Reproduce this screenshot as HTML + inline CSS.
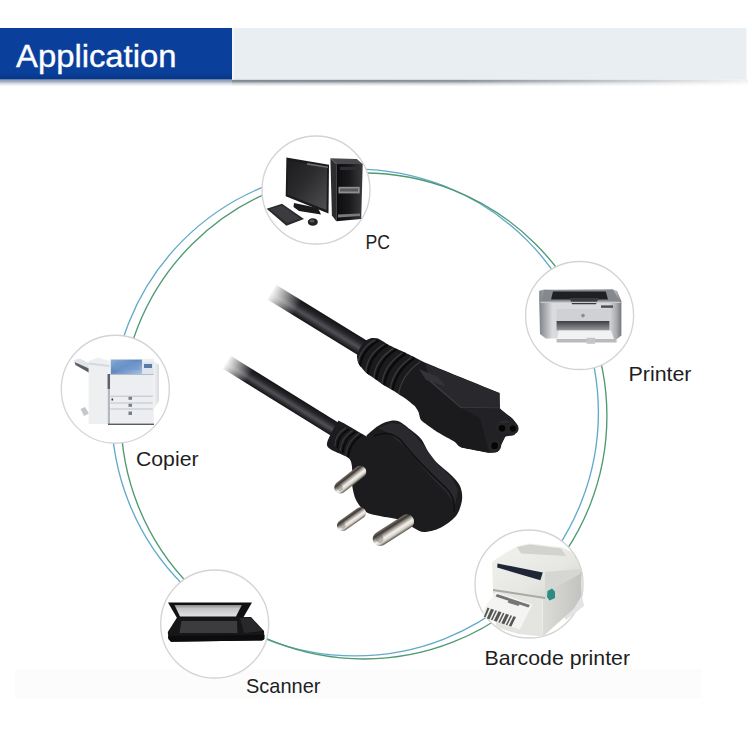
<!DOCTYPE html>
<html><head><meta charset="utf-8">
<style>
html,body{margin:0;padding:0;background:#fff;width:750px;height:750px;overflow:hidden}
svg{display:block}
text{font-family:"Liberation Sans",sans-serif}
</style></head>
<body>
<svg width="750" height="750" viewBox="0 0 750 750">
<defs>
  <linearGradient id="shV" x1="0" y1="0" x2="0" y2="1">
    <stop offset="0" stop-color="#737b84"/>
    <stop offset="0.3" stop-color="#8e959d"/>
    <stop offset="0.6" stop-color="#d4d7db"/>
    <stop offset="1" stop-color="#ffffff"/>
  </linearGradient>
  <linearGradient id="shVb" x1="0" y1="0" x2="0" y2="1">
    <stop offset="0" stop-color="#8799b3"/>
    <stop offset="0.3" stop-color="#a2aebf"/>
    <stop offset="0.6" stop-color="#dcdfe5"/>
    <stop offset="1" stop-color="#ffffff"/>
  </linearGradient>
  <linearGradient id="shH" x1="0" y1="0" x2="1" y2="0">
    <stop offset="0" stop-color="#fff" stop-opacity="0"/>
    <stop offset="0.45" stop-color="#fff" stop-opacity="0.1"/>
    <stop offset="0.8" stop-color="#fff" stop-opacity="0.6"/>
    <stop offset="1" stop-color="#fff" stop-opacity="0.9"/>
  </linearGradient>
  <linearGradient id="blueV" x1="0" y1="0" x2="0" y2="1">
    <stop offset="0" stop-color="#0a3f9c"/>
    <stop offset="0.85" stop-color="#0a409c"/>
    <stop offset="1" stop-color="#073686"/>
  </linearGradient>
</defs>
<rect width="750" height="750" fill="#fff"/>
<rect x="15" y="669" width="687" height="29" fill="#fcfcfc"/>
<!-- header -->
<rect x="0" y="79.5" width="232" height="7" fill="url(#shVb)"/>
<rect x="232" y="79.5" width="516" height="7" fill="url(#shV)"/>
<rect x="232" y="79" width="516" height="8" fill="url(#shH)"/>
<rect x="232" y="28" width="514.5" height="51.6" fill="#e9eef2"/>
<rect x="232" y="28" width="2" height="51.6" fill="#f4f7fa"/>
<rect x="0" y="28" width="232" height="51.5" fill="url(#blueV)"/>
<text x="16" y="67.2" font-size="32" fill="#fff" stroke="#fff" stroke-width="0.35" textLength="160.5" lengthAdjust="spacingAndGlyphs">Application</text>

<!-- ring -->
<circle cx="355" cy="412.5" r="243.4" fill="none" stroke="#62aacb" stroke-width="1.35"/>
<circle cx="363.9" cy="416" r="243" fill="none" stroke="#4f9a72" stroke-width="1.35"/>

<!-- small circles -->
<g fill="#fff" stroke="#d4d4d4" stroke-width="1.35">
  <circle cx="316" cy="190" r="54"/>
  <circle cx="579.6" cy="315.5" r="54"/>
  <circle cx="115.3" cy="389.2" r="54"/>
  <circle cx="214.7" cy="624" r="54"/>
  <circle cx="529" cy="584" r="54"/>
</g>



<!-- PC -->
<defs>
  <linearGradient id="monG" x1="0" y1="0" x2="1" y2="1">
    <stop offset="0" stop-color="#1c1c1e"/>
    <stop offset="0.45" stop-color="#2c2c2f"/>
    <stop offset="1" stop-color="#505054"/>
  </linearGradient>
  <linearGradient id="towG" x1="0" y1="0" x2="1" y2="0">
    <stop offset="0" stop-color="#0c0c0e"/>
    <stop offset="0.5" stop-color="#1a1a1c"/>
    <stop offset="1" stop-color="#3a3a3e"/>
  </linearGradient>
</defs>
<g>
  <!-- monitor -->
  <path d="M286.4,157.5 L329,164.8 L328.5,213.5 L285.7,196.3 Z" fill="#1b1b1d"/>
  <path d="M288,160.5 L327,167 L326.5,210 L287.5,194.5 Z" fill="url(#monG)"/>
  <path d="M294,203 L318,208 L321,214.5 L299,211 L293.5,207 Z" fill="#1a1a1a"/>
  <path d="M307,163 L328,166.5 L328,168 L307,164.8 Z" fill="#6e6e72"/>
  <!-- tower side -->
  <path d="M330.4,158.2 L336.3,164 L336.3,221.3 L331.9,215.4 Z" fill="#2d2d30"/>
  <!-- tower top -->
  <path d="M330.4,158.2 L356.8,159 L362.7,164 L336.3,164 Z" fill="#4a4a4e"/>
  <!-- tower front -->
  <path d="M336.3,164 L362.7,164 L361.2,219 L336.3,221.3 Z" fill="url(#towG)"/>
  <rect x="338.5" y="186.8" width="21.2" height="6.6" fill="#8e8e90"/>
  <rect x="340" y="188.5" width="18" height="3" fill="#5a5a5c"/>
  <path d="M338,214.5 L360,213.5 L360,216 L338,217.5 Z" fill="#7a7a7c"/>
  <rect x="340" y="167" width="20" height="3" fill="#2e2e32"/>
  <!-- keyboard -->
  <path d="M266.6,208.8 L282,203.7 L304,219 L286.4,225.7 Z" fill="#2a2a2c"/>
  <path d="M270,209 L282,205.5 L300,218.5 L287,223 Z" fill="#3c3c40"/>
  <!-- mouse -->
  <ellipse cx="312.8" cy="222" rx="5" ry="3.8" fill="#222"/>
  <ellipse cx="312" cy="221" rx="2.5" ry="1.6" fill="#555"/>
</g>


<!-- Printer -->
<defs>
  <linearGradient id="prBody" x1="0" y1="0" x2="1" y2="0">
    <stop offset="0" stop-color="#7e8186"/>
    <stop offset="0.07" stop-color="#a6a9ad"/>
    <stop offset="0.16" stop-color="#dadbde"/>
    <stop offset="0.85" stop-color="#d8d9dc"/>
    <stop offset="0.94" stop-color="#a8aaae"/>
    <stop offset="1" stop-color="#73767b"/>
  </linearGradient>
  <linearGradient id="prSlot" x1="0" y1="0" x2="0" y2="1">
    <stop offset="0" stop-color="#3c3e42"/>
    <stop offset="1" stop-color="#9a9ca0"/>
  </linearGradient>
</defs>
<g>
  <path d="M539.2,291 L544,289.5 L612,289 L617,291 L621.4,301 L621.4,335.4 L617,339 L545.8,338.5 L540,334 L539.2,300 Z" fill="url(#prBody)"/>
  <path d="M544,290 L613,289.5 L620,301.8 L541,301.8 Z" fill="#85888d"/>
  <path d="M553,291.6 L605.8,291.6 L608,299.5 L551,299.5 Z" fill="#1e2024"/>
  <path d="M569.8,298 L598.6,298 L596,304.2 L572,304.2 Z" fill="#3a3c40"/>
  <path d="M541,301.8 L620,301.8 L621,303 L540,303 Z" fill="#c8c9cc"/>
  <rect x="601" y="305.4" width="12" height="2.4" fill="#4a4c50"/>
  <path d="M556.6,309 L609.4,309 L609.4,321 L556.6,321 Z" fill="#d0d1d4"/>
  <circle cx="583" cy="315.6" r="1.8" fill="#8a8c90"/>
  <path d="M556.6,321 L609.4,321 L609.4,330.6 L556.6,330.6 Z" fill="url(#prSlot)"/>
  <path d="M559,330.6 L611,330.6 L614,339 L557,339 Z" fill="#f2f2f3"/>
  <path d="M556.6,339 L616.6,339 L616.6,342.6 L556.6,342.6 Z" fill="#b8babd"/>
  <rect x="586.6" y="337.8" width="8.4" height="6" fill="#c4c5c8"/>
</g>
<!-- Copier -->
<defs>
  <linearGradient id="cpBlue" x1="0" y1="0" x2="1" y2="1">
    <stop offset="0" stop-color="#8fb0d8"/>
    <stop offset="0.45" stop-color="#5f88c0"/>
    <stop offset="1" stop-color="#a8c2e4"/>
  </linearGradient>
  <linearGradient id="cpSide" x1="0" y1="0" x2="1" y2="0">
    <stop offset="0" stop-color="#f2f3f5"/>
    <stop offset="1" stop-color="#d8dade"/>
  </linearGradient>
</defs>
<g>
  <!-- finisher tray -->
  <path d="M73,360.5 L80,358.5 L93,365.5 L91,373 Z" fill="#e2e4e7"/>
  <path d="M74.5,362 L90,369 L89.5,373 L75.5,365 Z" fill="#5a5e66"/>
  <path d="M80.5,409 L85,407 L89,413.5 L84,416 Z" fill="#c4c7cc"/>
  <!-- finisher tower -->
  <path d="M88.6,361 L98,357.5 L109.6,361 L109.6,424 L88.6,424 Z" fill="#eeeff1"/>
  <path d="M88.6,362.5 L109.6,365 L109.6,367 L88.6,364.5 Z" fill="#d6d8db"/>
  <rect x="107.8" y="374" width="2.2" height="50" fill="#b4b8be"/>
  <rect x="107.6" y="374" width="2.6" height="15" fill="#5e6268"/>
  <!-- main body -->
  <rect x="110.2" y="359" width="43.6" height="65" fill="#eceef1"/>
  <path d="M110.8,359.6 L142,359.6 L142,374 L110.8,374 Z" fill="url(#cpBlue)"/>
  <path d="M115,361.5 L138,361.5 L140,370 L114,370 Z" fill="#7099cc" opacity="0.6"/>
  <path d="M142,362 L153.8,362 L153.8,374 L142,374 Z" fill="#dfe5ee"/>
  <rect x="144" y="364" width="8" height="4" fill="#5a7aa8"/>
  <rect x="110.2" y="374" width="43.6" height="1" fill="#b8bcc2"/>
  <rect x="110.2" y="395.8" width="42.6" height="0.8" fill="#b4b8be"/>
  <rect x="110.2" y="402.6" width="42.6" height="0.8" fill="#b4b8be"/>
  <rect x="110.2" y="408.6" width="42.6" height="0.8" fill="#b4b8be"/>
  <rect x="128.5" y="396.8" width="3.5" height="3" fill="#7a7e84"/>
  <rect x="128.5" y="403.8" width="3.5" height="3" fill="#7a7e84"/>
  <rect x="128.5" y="411.5" width="3.5" height="3.5" fill="#7a7e84"/>
  <rect x="111.5" y="398.5" width="1.6" height="2" fill="#333"/>
  <path d="M153.8,361 L159,365 L159,401 L153.8,409 Z" fill="url(#cpSide)"/>
  <rect x="108" y="423.6" width="46" height="1.4" fill="#5a5c60"/>
</g>
<!-- Scanner -->
<defs>
  <linearGradient id="scLid" x1="0" y1="0" x2="0" y2="1">
    <stop offset="0" stop-color="#8a8a8c"/>
    <stop offset="0.3" stop-color="#c4c4c6"/>
    <stop offset="1" stop-color="#e2e2e4"/>
  </linearGradient>
</defs>
<g>
  <path d="M168,602.5 L252,602.5 L243,618 L177,618 Z" fill="#111113"/>
  <path d="M174.5,605 L241.8,605 L236,616.5 L180,616.5 Z" fill="url(#scLid)"/>
  <path d="M177,617.5 L251,617 L264,631 L264.5,639 L262,640.5 L171,641.8 L168.5,639 L167.8,632 Z" fill="#161618"/>
  <path d="M181.5,621 L237,621 L237.5,633 L179.5,633 Z" fill="#3c3c3f"/>
  <path d="M240,618 L251,617.5 L263,631 L244,633 Z" fill="#28282b"/>
  <path d="M168,636 L264.5,635 L264,639.5 L262,640.5 L171,641.8 L168.5,639 Z" fill="#0c0c0d"/>
</g>
<!-- Barcode printer -->
<defs>
  <linearGradient id="bcBody" x1="0" y1="0" x2="1" y2="1">
    <stop offset="0" stop-color="#f2f2ef"/>
    <stop offset="0.6" stop-color="#e6e6e2"/>
    <stop offset="1" stop-color="#cfd0cc"/>
  </linearGradient>
  <linearGradient id="bcSide" x1="0" y1="0" x2="1" y2="0">
    <stop offset="0" stop-color="#dcdcd8"/>
    <stop offset="1" stop-color="#c2c3bf"/>
  </linearGradient>
</defs>
<g>
  <!-- shadow -->
  <path d="M560,610 L582,596 L584,606 L566,620 Z" fill="#e2e3e4"/>
  <!-- side -->
  <path d="M542,572 L575,556 L581.5,572 L581.5,596 L574,608.5 L543,636.5 Z" fill="url(#bcSide)"/>
  <!-- front lower body -->
  <path d="M493,590 L542,598 L543,636.5 L518,634 L496,627 Z" fill="#e4e4e0"/>
  <!-- top cover -->
  <path d="M492,562 L505,553 L518,546 L530,543.5 L562,547.5 L572,552 L578,562 L581.5,572 L575,574 L552,589 L545,598 L493,590 Z" fill="url(#bcBody)"/>
  <path d="M517,547 L530,544.5 L561,548.5 L566,556 L521,553.5 Z" fill="#d2d3cf"/>
  <path d="M545,572 L581,569 L580,574 L552,589 L545,598 Z" fill="#d6d7d3"/>
  <!-- dark label strip -->
  <path d="M497.5,563.4 L542.8,572.5 L540.4,580.2 L497.2,567.6 Z" fill="#1f2636"/>
  <path d="M493,589 L545,597 L545,599 L493,591 Z" fill="#a8a9a5"/>
  <!-- teal button -->
  <path d="M547.5,591 L552,588.5 L555,591.5 L555,598 L549.5,600.5 L547,597 Z" fill="#2a8d85"/>
  <!-- label paper -->
  <path d="M496,592 L532.5,604.5 L520,629.5 L483,617.5 L484,608 Z" fill="#f4f4f2"/>
  <path d="M497,594 L530,605 L528.5,607.5 L495.5,596.5 Z" fill="#4a4a4a" opacity="0.75"/>
  <path d="M509,600 L520,603.5 L518.5,606 L507.5,602.5 Z" fill="#777"/>
  <g fill="#3a3a3a" opacity="0.85">
    <path d="M487.5,607.5 L489.5,608.2 L485.5,617.5 L483.8,617 Z"/>
    <path d="M491,608.8 L494,609.8 L489.5,619.2 L486.8,618.4 Z"/>
    <path d="M495.5,610.3 L497,610.8 L492.3,620.2 L490.8,619.7 Z"/>
    <path d="M498.5,611.3 L501.5,612.3 L496.8,621.7 L493.8,620.7 Z"/>
    <path d="M503,612.8 L504.5,613.3 L499.8,622.7 L498.3,622.2 Z"/>
    <path d="M506,613.8 L509,614.8 L504.3,624.2 L501.3,623.2 Z"/>
    <path d="M510.5,615.3 L512,615.8 L507.3,625.2 L505.8,624.7 Z"/>
    <path d="M513.5,616.3 L516,617.1 L511.3,626.5 L508.8,625.7 Z"/>
  </g>
</g>
<!-- cables -->
<defs>
  <linearGradient id="cabX" x1="0" y1="0" x2="0" y2="1">
    <stop offset="0" stop-color="#141416"/>
    <stop offset="0.3" stop-color="#26262a"/>
    <stop offset="0.6" stop-color="#505056"/>
    <stop offset="0.82" stop-color="#2c2c30"/>
    <stop offset="1" stop-color="#121214"/>
  </linearGradient>
  <linearGradient id="fade1" x1="0" y1="0" x2="1" y2="0">
    <stop offset="0" stop-color="#fff" stop-opacity="1"/>
    <stop offset="0.04" stop-color="#fff" stop-opacity="0.85"/>
    <stop offset="0.27" stop-color="#fff" stop-opacity="0"/>
    <stop offset="1" stop-color="#fff" stop-opacity="0"/>
  </linearGradient>
  <linearGradient id="fade2" x1="0" y1="0" x2="1" y2="0">
    <stop offset="0" stop-color="#fff" stop-opacity="1"/>
    <stop offset="0.03" stop-color="#fff" stop-opacity="0.85"/>
    <stop offset="0.2" stop-color="#fff" stop-opacity="0"/>
    <stop offset="1" stop-color="#fff" stop-opacity="0"/>
  </linearGradient>
  <linearGradient id="pinG" x1="0" y1="0" x2="0" y2="1">
    <stop offset="0" stop-color="#5a544e"/>
    <stop offset="0.2" stop-color="#d8d2cc"/>
    <stop offset="0.4" stop-color="#f4f0ea"/>
    <stop offset="0.62" stop-color="#9a948e"/>
    <stop offset="0.8" stop-color="#3e3834"/>
    <stop offset="1" stop-color="#7a746e"/>
  </linearGradient>
  <radialGradient id="pinTip" cx="0.5" cy="0.4" r="0.6">
    <stop offset="0" stop-color="#f8f4ee"/>
    <stop offset="0.5" stop-color="#b0a8a0"/>
    <stop offset="1" stop-color="#3a3530"/>
  </radialGradient>
</defs>
<g transform="translate(350,340.2) rotate(31.6)">
  <rect x="-92" y="-8.5" width="115" height="17" fill="url(#cabX)"/>
  <rect x="-93" y="-9" width="117" height="18" fill="url(#fade1)"/>
</g>
<g transform="translate(334.6,429.1) rotate(31.8)">
  <rect x="-127" y="-7.5" width="137" height="15" fill="url(#cabX)"/>
  <rect x="-128" y="-8" width="139" height="16" fill="url(#fade2)"/>
</g>
<clipPath id="c5clip"><path d="M366.0,340.5 C367.2,339.5 370.8,338.2 372.0,338.0 C373.2,337.8 376.4,337.9 378.0,338.5 C379.6,339.1 386.2,343.5 388.0,344.5 C389.8,345.5 394.4,347.8 396.0,348.5 C397.6,349.2 402.4,351.2 404.0,352.0 C405.6,352.8 410.4,355.2 412.0,356.0 C413.6,356.8 418.7,359.3 420.0,360.0 C421.3,360.7 417.7,359.5 425.3,362.7 C432.9,365.9 489.1,388.7 496.5,391.8 C503.9,394.9 499.1,392.3 499.5,394.0 C499.9,395.7 498.9,406.2 500.2,408.7 C501.5,411.2 510.9,417.1 512.7,418.9 C514.5,420.7 517.7,424.7 517.8,426.3 C517.9,427.9 515.4,434.0 514.1,435.0 C512.9,436.0 506.9,434.9 505.3,436.5 C503.7,438.1 499.6,449.6 498.0,451.2 C496.4,452.8 492.9,453.1 489.2,452.7 C485.5,452.3 464.6,448.3 461.1,447.2 C457.7,446.1 457.0,443.4 454.7,441.9 C452.4,440.4 440.5,434.0 437.7,432.3 C434.9,430.6 428.7,426.1 427.0,424.8 C425.3,423.5 421.5,420.8 420.6,419.5 C419.8,418.2 419.1,413.4 418.5,412.0 C417.9,410.6 415.5,406.9 414.2,405.6 C412.9,404.3 407.0,399.7 405.7,398.7 C404.4,397.7 402.5,396.7 401.4,396.0 C400.3,395.3 396.7,392.8 395.0,391.7 C393.3,390.6 386.0,386.6 384.0,385.3 C382.0,384.0 376.4,379.9 374.7,378.7 C373.0,377.5 368.3,374.8 366.7,373.3 C365.1,371.8 359.7,365.7 358.7,364.0 C357.7,362.3 356.9,357.6 357.0,356.0 C357.1,354.4 359.1,349.6 360.0,348.0 C360.9,346.4 364.8,341.5 366.0,340.5 Z"/></clipPath><clipPath id="plclip"><path d="M337.0,423.1 C339.1,420.2 337.0,420.1 341.3,422.0 C345.6,423.9 362.0,434.0 365.9,435.9 C369.8,437.8 365.2,436.3 367.0,434.9 C368.8,433.5 374.7,428.2 377.6,426.3 C380.5,424.4 383.5,422.9 386.1,422.0 C388.7,421.1 392.4,420.4 394.7,420.5 C397.0,420.6 399.0,421.3 401.4,422.7 C403.8,424.1 408.0,427.6 411.0,430.1 C414.0,432.7 418.6,435.5 421.7,439.7 C424.8,443.9 427.8,452.9 432.0,458.0 C436.2,463.1 445.8,469.8 450.0,474.0 C454.2,478.2 458.2,482.1 460.0,486.0 C461.8,489.9 462.6,495.5 462.0,500.0 C461.4,504.5 459.3,511.8 456.0,516.0 C452.7,520.2 444.8,525.6 440.0,528.0 C435.2,530.4 427.9,532.0 424.0,532.0 C420.1,532.0 417.6,529.8 414.0,528.0 C410.4,526.2 405.1,521.8 400.0,520.0 C394.9,518.2 385.1,517.2 380.0,516.0 C374.9,514.8 369.6,514.4 366.0,512.0 C362.4,509.6 358.1,504.2 356.0,500.0 C353.9,495.8 352.6,489.0 352.0,484.0 C351.4,479.0 352.5,470.8 352.0,466.9 C351.5,463.0 351.2,460.5 348.8,458.3 C346.4,456.1 339.0,453.6 336.0,452.0 C333.0,450.4 329.8,449.3 328.5,447.7 C327.2,446.1 326.2,445.0 327.5,441.3 C328.8,437.6 334.9,426.0 337.0,423.1 Z"/></clipPath>
<!-- C5 connector -->
<path fill="#1b1b1e" d="M366.0,340.5 C367.2,339.5 370.8,338.2 372.0,338.0 C373.2,337.8 376.4,337.9 378.0,338.5 C379.6,339.1 386.2,343.5 388.0,344.5 C389.8,345.5 394.4,347.8 396.0,348.5 C397.6,349.2 402.4,351.2 404.0,352.0 C405.6,352.8 410.4,355.2 412.0,356.0 C413.6,356.8 418.7,359.3 420.0,360.0 C421.3,360.7 417.7,359.5 425.3,362.7 C432.9,365.9 489.1,388.7 496.5,391.8 C503.9,394.9 499.1,392.3 499.5,394.0 C499.9,395.7 498.9,406.2 500.2,408.7 C501.5,411.2 510.9,417.1 512.7,418.9 C514.5,420.7 517.7,424.7 517.8,426.3 C517.9,427.9 515.4,434.0 514.1,435.0 C512.9,436.0 506.9,434.9 505.3,436.5 C503.7,438.1 499.6,449.6 498.0,451.2 C496.4,452.8 492.9,453.1 489.2,452.7 C485.5,452.3 464.6,448.3 461.1,447.2 C457.7,446.1 457.0,443.4 454.7,441.9 C452.4,440.4 440.5,434.0 437.7,432.3 C434.9,430.6 428.7,426.1 427.0,424.8 C425.3,423.5 421.5,420.8 420.6,419.5 C419.8,418.2 419.1,413.4 418.5,412.0 C417.9,410.6 415.5,406.9 414.2,405.6 C412.9,404.3 407.0,399.7 405.7,398.7 C404.4,397.7 402.5,396.7 401.4,396.0 C400.3,395.3 396.7,392.8 395.0,391.7 C393.3,390.6 386.0,386.6 384.0,385.3 C382.0,384.0 376.4,379.9 374.7,378.7 C373.0,377.5 368.3,374.8 366.7,373.3 C365.1,371.8 359.7,365.7 358.7,364.0 C357.7,362.3 356.9,357.6 357.0,356.0 C357.1,354.4 359.1,349.6 360.0,348.0 C360.9,346.4 364.8,341.5 366.0,340.5 Z"/>
<g clip-path="url(#c5clip)"><g transform="translate(350,340.2) rotate(31.6)" fill="none" stroke-linecap="round">
  <path d="M24,-14 Q15,3 23,19" stroke="#0a0a0b" stroke-width="2.2"/>
  <path d="M34,-15 Q25,3 33,20" stroke="#0a0a0b" stroke-width="2.2"/>
  <path d="M44,-16 Q35,3 43,20.5" stroke="#0a0a0b" stroke-width="2.2"/>
  <path d="M54,-17 Q45,3 53,21" stroke="#0a0a0b" stroke-width="2.2"/>
  <path d="M64,-18 Q55,3 63,21.5" stroke="#0a0a0b" stroke-width="2.2"/>
  <path d="M21,-13 Q12,3 20,18" stroke="#3a3a3f" stroke-width="1.3"/>
  <path d="M31,-14 Q22,3 30,19" stroke="#3a3a3f" stroke-width="1.3"/>
  <path d="M41,-15 Q32,3 40,20" stroke="#3a3a3f" stroke-width="1.3"/>
  <path d="M51,-16 Q42,3 50,20.5" stroke="#3a3a3f" stroke-width="1.3"/>
  <path d="M61,-17 Q52,3 60,21" stroke="#3a3a3f" stroke-width="1.3"/>
  <path d="M71,-18 Q62,3 70,21.5" stroke="#3a3a3f" stroke-width="1.3"/>
</g></g>
<path fill="#29292d" d="M425.3,363.5 L496.5,392 L499.5,394 L500,407.5 L462,407 L444,393 L430,380 Z"/>
<path fill="#333338" d="M419,369 L438,377 L446,386.5 L426,380 Z"/>
<path fill="none" stroke="#3e3e43" stroke-width="1.2" d="M430,381 L444,393 L461,407.5 L500,408"/>
<path fill="#222226" d="M461,408 L500.2,408.7 L512.7,418.9 L517.8,426.3 L514.1,435 L505.3,436.5 L498,451.2 L489.2,452.7 L461.1,447.2 Z"/>
<path fill="#1a1a1d" d="M461,408 L480,418 L489,452 L461.1,447.2 Z"/>
<g fill="#242427">
  <circle cx="502" cy="428" r="6.3"/>
  <circle cx="512.6" cy="428.5" r="6"/>
  <circle cx="494.6" cy="445.5" r="6.6"/>
</g>
<path fill="#2e2e32" d="M497,422.5 Q505,419 512,422.5 L516,424 Q511,421 505,423 Z"/>
<g fill="#050506">
  <circle cx="502" cy="428.2" r="3.3"/>
  <circle cx="513" cy="428.6" r="3.1"/>
  <circle cx="494.6" cy="445.7" r="3.4"/>
</g>
<!-- plug -->
<path fill="#1c1c1f" d="M337.0,423.1 C339.1,420.2 337.0,420.1 341.3,422.0 C345.6,423.9 362.0,434.0 365.9,435.9 C369.8,437.8 365.2,436.3 367.0,434.9 C368.8,433.5 374.7,428.2 377.6,426.3 C380.5,424.4 383.5,422.9 386.1,422.0 C388.7,421.1 392.4,420.4 394.7,420.5 C397.0,420.6 399.0,421.3 401.4,422.7 C403.8,424.1 408.0,427.6 411.0,430.1 C414.0,432.7 418.6,435.5 421.7,439.7 C424.8,443.9 427.8,452.9 432.0,458.0 C436.2,463.1 445.8,469.8 450.0,474.0 C454.2,478.2 458.2,482.1 460.0,486.0 C461.8,489.9 462.6,495.5 462.0,500.0 C461.4,504.5 459.3,511.8 456.0,516.0 C452.7,520.2 444.8,525.6 440.0,528.0 C435.2,530.4 427.9,532.0 424.0,532.0 C420.1,532.0 417.6,529.8 414.0,528.0 C410.4,526.2 405.1,521.8 400.0,520.0 C394.9,518.2 385.1,517.2 380.0,516.0 C374.9,514.8 369.6,514.4 366.0,512.0 C362.4,509.6 358.1,504.2 356.0,500.0 C353.9,495.8 352.6,489.0 352.0,484.0 C351.4,479.0 352.5,470.8 352.0,466.9 C351.5,463.0 351.2,460.5 348.8,458.3 C346.4,456.1 339.0,453.6 336.0,452.0 C333.0,450.4 329.8,449.3 328.5,447.7 C327.2,446.1 326.2,445.0 327.5,441.3 C328.8,437.6 334.9,426.0 337.0,423.1 Z"/>
<path fill="#2a2a2e" d="M378,428 L390,423 L401,424 L412,432 L424,446 L436,462 L452,478 L458,490 L455,505 L446,492 L432,478 L418,462 L404,446 L390,434 Z"/>
<path fill="none" stroke="#101012" stroke-width="1.5" d="M374,436 Q392,428 404,444 Q420,464 446,488 Q456,498 454,512"/>
<g clip-path="url(#plclip)"><g transform="translate(334.6,429.1) rotate(31.8)" fill="none" stroke-linecap="round">
  <path d="M12,-7 Q6,4 12,14" stroke="#0a0a0b" stroke-width="1.8"/>
  <path d="M19,-8 Q13,4 19,15" stroke="#0a0a0b" stroke-width="1.8"/>
  <path d="M26,-9 Q20,4 26,16" stroke="#0a0a0b" stroke-width="1.8"/>
  <path d="M9,-7 Q3,4 9,14" stroke="#38383d" stroke-width="1.2"/>
  <path d="M16,-8 Q10,4 16,15" stroke="#38383d" stroke-width="1.2"/>
  <path d="M23,-9 Q17,4 23,16" stroke="#38383d" stroke-width="1.2"/>
</g></g>
<g transform="translate(365,468) rotate(141.7)"><rect x="0" y="-6" width="37.5" height="12" rx="6" fill="url(#pinG)"/><ellipse cx="32" cy="0.5" rx="3" ry="3.6" fill="#4a4038" opacity="0.3"/></g>
<g transform="translate(365,509.7) rotate(144.8)"><rect x="0" y="-5.6" width="33" height="11.2" rx="5.6" fill="url(#pinG)"/><ellipse cx="27.5" cy="0.5" rx="3" ry="3.6" fill="#4a4038" opacity="0.3"/></g>
<g transform="translate(413,517.7) rotate(147.4)"><rect x="0" y="-7.2" width="46.5" height="14.4" rx="7.2" fill="url(#pinG)"/><ellipse cx="39.5" cy="0.8" rx="4" ry="4.6" fill="#4a4038" opacity="0.3"/></g>
<!-- labels -->
<g fill="#1e1e1e" font-size="21">
  <text x="365.5" y="249.3" textLength="24.5" lengthAdjust="spacingAndGlyphs">PC</text>
  <text x="628.5" y="380.5" textLength="63" lengthAdjust="spacingAndGlyphs">Printer</text>
  <text x="136" y="466.3" textLength="62.5" lengthAdjust="spacingAndGlyphs">Copier</text>
  <text x="246" y="693" textLength="74.5" lengthAdjust="spacingAndGlyphs">Scanner</text>
  <text x="484.5" y="664.8" textLength="145.5" lengthAdjust="spacingAndGlyphs">Barcode printer</text>
</g>
</svg>
</body></html>
